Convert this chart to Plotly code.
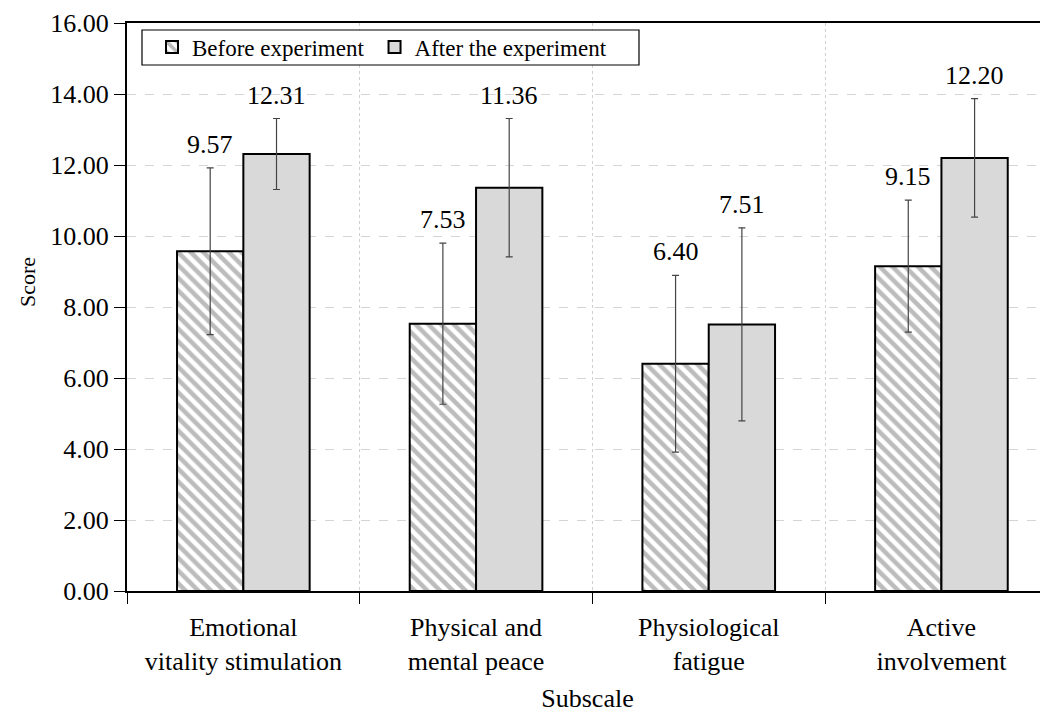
import plotly.graph_objects as go

categories = ["Emotional<br>vitality stimulation", "Physical and<br>mental peace",
              "Physiological<br>fatigue", "Active<br>involvement"]
series_names = ["Before experiment", "After the experiment"]
before = [9.57, 7.53, 6.40, 9.15]
after = [12.31, 11.36, 7.51, 12.20]
before_err = [2.35, 2.27, 2.49, 1.86]
after_err = [1.00, 1.95, 2.72, 1.67]
y_ticks = [0, 2, 4, 6, 8, 10, 12, 14, 16]

FONT = "Liberation Serif, Times New Roman, serif"
# page body has an 8px margin, so the figure is 8px smaller than the window
W, H = 1040, 705
ML, MR, MT, MB = 119, 0, 15, 122
PW, PH = W - ML - MR, H - MT - MB


def px_x(x):
    return (x - ML) / PW


def px_y(y):
    return (H - MB - y) / PH


fig = go.Figure()
fig.add_trace(go.Bar(
    x=categories, y=before, name=series_names[0] + "\u00a0",
    marker=dict(color="white", line=dict(color="black", width=2),
                pattern=dict(shape="\\", fgcolor="#7a7a7a", bgcolor="white", size=9, solidity=0.5)),
    error_y=dict(type="data", array=before_err, color="#444444", thickness=1.2, width=3.5),
))
fig.add_trace(go.Bar(
    x=categories, y=after, name=series_names[1],
    marker=dict(color="#d9d9d9", line=dict(color="black", width=2)),
    error_y=dict(type="data", array=after_err, color="#444444", thickness=1.2, width=3.5),
))

annotations = []
for vals, errs, shift in ((before, before_err, -33), (after, after_err, 33)):
    for c, v, e in zip(categories, vals, errs):
        annotations.append(dict(x=c, y=v + e, xref="x", yref="y", text=f"{v:.2f}",
                                showarrow=False, xshift=shift, yshift=7, yanchor="bottom",
                                font=dict(family=FONT, size=26, color="black")))
annotations.append(dict(x=px_x(19), y=px_y(274), xref="paper", yref="paper",
                        xanchor="center", yanchor="middle", text="Score", textangle=-90,
                        showarrow=False, font=dict(family=FONT, size=22, color="black")))

shapes = [dict(type="rect", xref="paper", yref="paper",
               x0=px_x(134), x1=px_x(631), y0=px_y(57), y1=px_y(22),
               line=dict(color="black", width=1.2), fillcolor="white", layer="above")]

fig.update_layout(
    width=W, height=H,
    margin=dict(l=ML, r=MR, t=MT, b=MB),
    paper_bgcolor="white", plot_bgcolor="white",
    font=dict(family=FONT, size=26, color="black"),
    barmode="group", bargap=0.43, bargroupgap=0,
    annotations=annotations, shapes=shapes,
    legend=dict(x=px_x(144), y=px_y(17.5),
                xanchor="left", yanchor="top", orientation="h",
                borderwidth=0, bgcolor="rgba(0,0,0,0)",
                font=dict(family=FONT, size=23, color="black")),
    xaxis=dict(type="category", range=[-0.5, 3.458],
               showline=True, linecolor="black", linewidth=2, mirror=True,
               ticks="outside", tickson="boundaries", ticklen=11, tickcolor="black", tickwidth=1.2,
               showgrid=True, gridcolor="#cfcfcf", griddash="dot", gridwidth=1,
               tickfont=dict(family=FONT, size=26), ticklabelstandoff=12,
               title=dict(text="Subscale", font=dict(family=FONT, size=26), standoff=18)),
    yaxis=dict(range=[0, 16], tickvals=y_ticks, tickformat=".2f",
               showline=True, linecolor="black", linewidth=2,
               ticks="outside", ticklen=11, tickcolor="black", tickwidth=1.2,
               showgrid=True, gridcolor="#d5d5d5", griddash="dash", gridwidth=1,
               zeroline=False, tickfont=dict(family=FONT, size=26)),
)

fig.write_html("out.html")
